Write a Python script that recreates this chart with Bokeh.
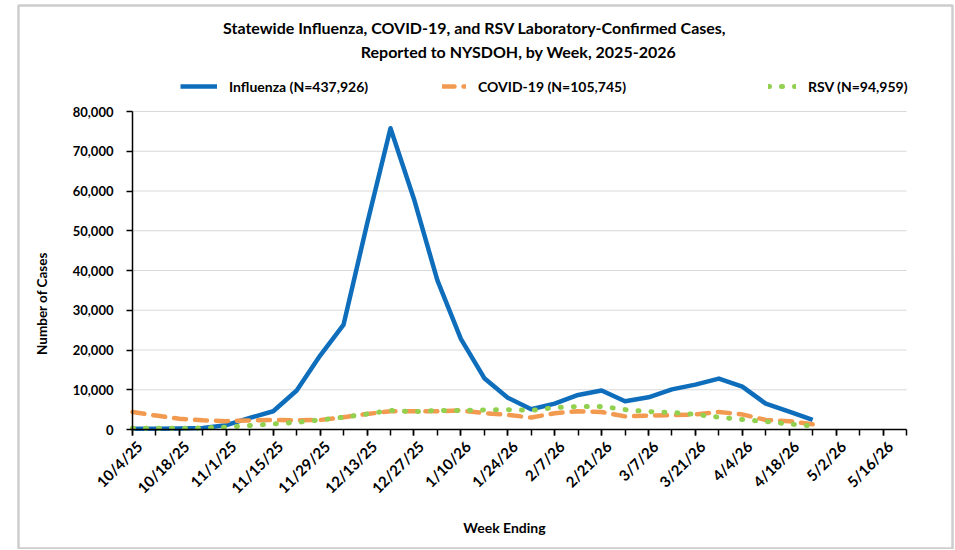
import math
from bokeh.plotting import figure
from bokeh.models import (Range1d, FixedTicker, NumeralTickFormatter, Label, Legend,
                          LegendItem, BoxAnnotation, LinearAxis)
from bokeh.embed import file_html
from bokeh.resources import INLINE

# ---------------- data ----------------
tick_labels = ["10/4/25", "10/18/25", "11/1/25", "11/15/25", "11/29/25", "12/13/25",
               "12/27/25", "1/10/26", "1/24/26", "2/7/26", "2/21/26", "3/7/26",
               "3/21/26", "4/4/26", "4/18/26", "5/2/26", "5/16/26"]
n_axis_weeks = 34  # 10/4/25 .. 5/23/26
weeks = list(range(30))  # week index, 0 = 10/4/25
flu = [200, 200, 250, 400, 1100, 2900, 4600, 9800, 18600, 26400, 51700, 75800, 58000,
       37500, 22800, 12900, 8000, 5100, 6500, 8700, 9800, 7100, 8100, 10100, 11300,
       12800, 10800, 6500, 4500, 2400]
covid = [4400, 3500, 2700, 2300, 2100, 2300, 2400, 2300, 2400, 3100, 3900, 4600, 4600,
         4600, 4800, 4100, 3700, 3000, 4100, 4600, 4400, 3300, 3500, 3600, 3800, 4400,
         3800, 2400, 2100, 1300]
rsv = [300, 300, 300, 400, 600, 1000, 1400, 1800, 2400, 3100, 3900, 4800, 4500, 4800,
       4800, 4900, 5000, 4800, 5500, 5800, 5800, 5000, 4500, 4300, 3800, 3100, 2500,
       2000, 1400, 900]
y_ticks = [0, 10000, 20000, 30000, 40000, 50000, 60000, 70000, 80000]
legend_labels = ["Influenza (N=437,926)", "COVID-19 (N=105,745)", "RSV (N=94,959)"]
title_lines = ["Statewide Influenza,  COVID-19, and RSV Laboratory-Confirmed  Cases,",
               "Reported to NYSDOH, by Week, 2025-2026"]

# ---------------- layout (page pixels) ----------------
FONT = "Lato"
W, H = 954, 549
PL, PT, PR, PB = 132, 111, 906, 429   # plot-area edges on the page
XMAX = n_axis_weeks - 1
YMAX = y_ticks[-1]
LABEL_SHIFT = 0.3                      # x-label anchor offset (in week units)


def dx(px):
    return (px - PL) / (PR - PL) * XMAX


def dy(py):
    return (PB - py) / (PB - PT) * YMAX


p = figure(width=W, height=H, output_backend="svg", toolbar_location=None,
           x_range=Range1d(dx(0), dx(W)), y_range=Range1d(dy(H), dy(0)),
           min_border=0)
try:
    p.title = None
except Exception:
    p.title.visible = False
p.outline_line_color = None
p.background_fill_color = "white"
p.border_fill_color = "white"
p.xgrid.visible = False
p.ygrid.visible = False

# horizontal gridlines at the y ticks
p.segment(x0=0, x1=XMAX, y0=y_ticks[1:], y1=y_ticks[1:], line_color="#D9D9D9",
          line_width=1)

r_flu = p.line(weeks, flu, line_color="#0F6EBB", line_width=4.5, line_join="round")
r_cov = p.line(weeks, covid, line_color="#F29A50", line_width=4.5, line_dash="12 9",
               line_cap="round", line_join="round")
r_rsv = p.line(weeks, rsv, line_color="#92D050", line_width=5, line_dash="1 12",
               line_cap="round", line_join="round")

# axes
for ax in (p.xaxis[0], p.yaxis[0]):
    ax.fixed_location = 0
    ax.axis_line_color = "black"
    ax.axis_line_width = 1.5
    ax.major_tick_line_color = "black"
    ax.major_tick_line_width = 1.5
    ax.major_tick_in = 0
    ax.major_tick_out = 6
    ax.major_label_text_font = FONT
    ax.major_label_text_font_style = "bold"
    ax.major_label_text_color = "black"

major_x = list(range(0, n_axis_weeks, 2))
p.xaxis.bounds = (0, XMAX)
p.xaxis.ticker = FixedTicker(ticks=major_x, minor_ticks=list(range(0, n_axis_weeks)))
p.xaxis.major_label_overrides = {t: "" for t in major_x}
p.xaxis.minor_tick_line_color = "black"
p.xaxis.minor_tick_line_width = 1.5
p.xaxis.minor_tick_in = 0
p.xaxis.minor_tick_out = 6

# label-only axis (Excel anchors the rotated labels' top-right corner at the tick)
label_pos = [t + LABEL_SHIFT for t in major_x]
xlab = LinearAxis(fixed_location=0, bounds=(0, XMAX),
                  ticker=FixedTicker(ticks=label_pos, minor_ticks=[]),
                  major_label_overrides={pos: lab for pos, lab in zip(label_pos, tick_labels)},
                  axis_line_color=None, major_tick_line_color=None,
                  minor_tick_line_color=None, major_tick_in=0, major_tick_out=6,
                  major_label_standoff=8, major_label_orientation=math.pi / 4,
                  major_label_text_font=FONT, major_label_text_font_size="15px",
                  major_label_text_font_style="bold", major_label_text_color="black")
p.add_layout(xlab, "below")

p.yaxis.bounds = (0, YMAX)
p.yaxis.ticker = FixedTicker(ticks=y_ticks)
p.yaxis.formatter = NumeralTickFormatter(format="0,0")
p.yaxis.major_label_text_font_size = "13px"
p.yaxis.minor_tick_line_color = None
p.yaxis.major_label_standoff = 13

# chart border
p.add_layout(BoxAnnotation(left=dx(18), right=dx(952), top=dy(5), bottom=dy(548),
                           fill_alpha=0, line_color="#595959", line_width=2.5))

# titles
for txt, cx, cy in zip(title_lines, (478, 518), (27, 51)):
    p.add_layout(Label(x=dx(cx), y=dy(cy), text=txt, text_align="center",
                       text_baseline="middle", text_font=FONT, text_font_size="16px",
                       text_font_style="bold", text_color="black"))

p.add_layout(Label(x=dx(41), y=dy(303), text="Number of Cases", angle=math.pi / 2,
                   text_align="center", text_baseline="middle", text_font=FONT,
                   text_font_size="13.5px", text_font_style="bold", text_color="black"))
p.add_layout(Label(x=dx(504), y=dy(527), text="Week Ending", text_align="center",
                   text_baseline="middle", text_font=FONT, text_font_size="14px",
                   text_font_style="bold", text_color="black"))

# legends (one per series, positioned individually)
for r, lab, gx, gw in zip((r_flu, r_cov, r_rsv), legend_labels,
                          (180, 442, 768), (37, 24, 28)):
    leg = Legend(items=[LegendItem(label=lab, renderers=[r])],
                 location=(gx, H - 96), orientation="horizontal",
                 glyph_width=gw, glyph_height=20, label_height=20, label_standoff=12,
                 padding=0, margin=0, spacing=0, border_line_color=None,
                 background_fill_alpha=0, label_text_font=FONT,
                 label_text_font_size="14px", label_text_font_style="bold",
                 label_text_color="black")
    p.add_layout(leg, "center")

open("out.html", "w").write(file_html(p, INLINE))
